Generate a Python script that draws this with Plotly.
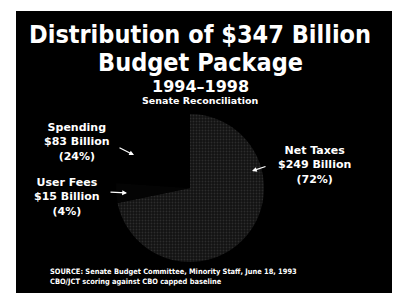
import plotly.graph_objects as go

categories = ["Net Taxes", "User Fees", "Spending"]
amounts = [249, 15, 83]  # $ billions
percents = ["72%", "4%", "24%"]
slice_colors = ["#121212", "#040404", "#000000"]

W, H = 400, 304

def px(x):
    return x / W

def py(y):
    return 1 - y / H

fig = go.Figure()
fig.add_trace(go.Pie(
    labels=categories,
    values=amounts,
    sort=False,
    direction="clockwise",
    rotation=0,
    textinfo="none",
    hoverinfo="label+value+percent",
    marker=dict(colors=slice_colors, line=dict(width=0),
                pattern=dict(shape=[".", "", ""], fgcolor="#2c2c2c",
                             bgcolor=slice_colors, size=3, solidity=0.3)),
    domain=dict(x=[px(116), px(264)], y=[py(262), py(114)]),
    showlegend=False,
))

COND = "DejaVu Sans Condensed, DejaVu Sans, sans-serif"
WIDE = "DejaVu Sans, sans-serif"
annotations = []

def txt(x, y, s, size, family, anchor="center", align="center"):
    annotations.append(dict(x=px(x), y=py(y), xref="paper", yref="paper", text=s,
                            showarrow=False, xanchor=anchor, yanchor="middle", align=align,
                            font=dict(family=family, size=size, color="white")))

txt(200, 35, "<b>Distribution of $347 Billion</b>", 25, COND)
txt(200, 62, "<b>Budget Package</b>", 25, COND)
txt(200, 87, "<b>1994–1998</b>", 16, WIDE)
txt(200, 100, "<b>Senate Reconciliation</b>", 9.5, WIDE)

labels_pos = {
    "Spending": (77, 142),
    "User Fees": (67, 197),
    "Net Taxes": (314, 165),
}
for cat, amt, pct in zip(categories, amounts, percents):
    x, y = labels_pos[cat]
    txt(x, y, f"<b>{cat}<br>${amt} Billion<br>({pct})</b>", 11, WIDE)

def arrow(x0, y0, x1, y1):
    annotations.append(dict(x=px(x1), y=py(y1), xref="paper", yref="paper", text="",
                            showarrow=True, arrowhead=2, arrowsize=0.8, arrowwidth=1.2,
                            arrowcolor="white", ax=x0 - x1, ay=y0 - y1))

arrow(118, 147, 134, 155)
arrow(109, 192, 127, 193)
arrow(267, 166, 252, 171)

annotations.append(dict(x=px(48), y=py(276), xref="paper", yref="paper",
                        text="<b>SOURCE: Senate Budget Committee, Minority Staff, June 18, 1993<br>CBO/JCT scoring against CBO capped baseline</b>",
                        showarrow=False, xanchor="left", yanchor="middle", align="left",
                        font=dict(family=COND, size=7.4, color="white")))

fig.update_layout(
    width=W, height=H,
    margin=dict(l=0, r=0, t=0, b=0),
    paper_bgcolor="white",
    plot_bgcolor="white",
    shapes=[dict(type="rect", xref="paper", yref="paper",
                 x0=px(16), x1=px(392), y0=py(293), y1=py(11),
                 fillcolor="black", line=dict(width=0), layer="below")],
    annotations=annotations,
)

fig.write_html("out.html")
